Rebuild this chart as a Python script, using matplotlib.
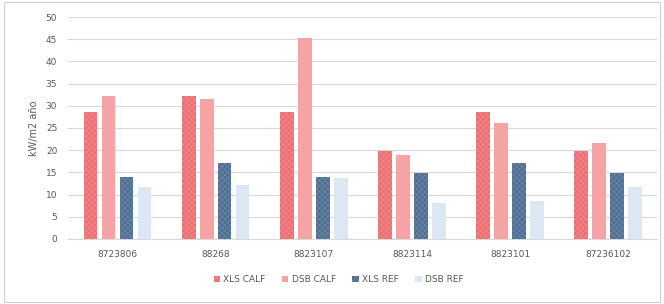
import numpy as np
import matplotlib.pyplot as plt
from matplotlib.patches import Rectangle

# Datos
categorias = ["8723806", "88268", "8823107", "8823114", "8823101", "87236102"]
xls_calf = [28.7, 32.2, 28.7, 19.9, 28.7, 19.9]
dsb_calf = [32.2, 31.5, 45.3, 18.9, 26.2, 21.7]
xls_ref = [14.0, 17.2, 14.0, 14.9, 17.2, 14.9]
dsb_ref = [11.8, 12.2, 13.7, 8.1, 8.6, 11.8]

series = [
    ("XLS CALF", xls_calf, "#EC6F73", "#F49A9C", "xxxxxx"),
    ("DSB CALF", dsb_calf, "#F5A3A5", "#F8B8BA", ""),
    ("XLS REF", xls_ref, "#4E6E93", "#7F98B5", "xxxxxx"),
    ("DSB REF", dsb_ref, "#DCE7F4", "#E8EFF8", ""),
]

plt.rcParams['hatch.linewidth'] = 0.3
fig = plt.figure(figsize=(6.64, 3.04), dpi=100)
ax = fig.add_axes([0.103, 0.214, 0.887, 0.730])

x = np.arange(len(categorias))
ancho = 0.14
paso = 0.183
for i, (nombre, valores, color, hcolor, hatch) in enumerate(series):
    pos = x + (i - 1.5) * paso
    bars = ax.bar(pos, valores, width=ancho, color=color, label=nombre,
                  zorder=3, linewidth=0)
    if hatch:
        for b in bars:
            b.set_hatch(hatch)
            b.set_edgecolor(hcolor)

ax.set_xlim(-0.5, len(categorias) - 0.5)
ax.set_ylim(0, 50)
ax.set_yticks(range(0, 51, 5))
ax.set_xticks(x)
ax.set_xticklabels(categorias)
ax.grid(axis='y', color='#D9D9D9', linewidth=0.8, zorder=0)
for s in ax.spines.values():
    s.set_visible(False)
ax.spines['bottom'].set_visible(True)
ax.spines['bottom'].set_color('#D9D9D9')
ax.tick_params(length=0, labelsize=6.5, colors='#595959', pad=8)
ax.tick_params(axis='x', pad=8)
ax.set_ylabel("kW/m2 año", fontsize=7, color='#595959', labelpad=5)

leg = fig.legend(loc='center', bbox_to_anchor=(0.51, 0.08), ncol=4, frameon=False,
                 fontsize=6.5, handlelength=0.7, handleheight=0.7,
                 columnspacing=1.8, handletextpad=0.4)
for t in leg.get_texts():
    t.set_color('#595959')

# borde del gráfico
fig.patches.append(Rectangle((0.006, 0.008), 0.988, 0.984, transform=fig.transFigure,
                             fill=False, edgecolor='#D0D0D0', linewidth=0.8))

fig.savefig("out.png", dpi=100)
